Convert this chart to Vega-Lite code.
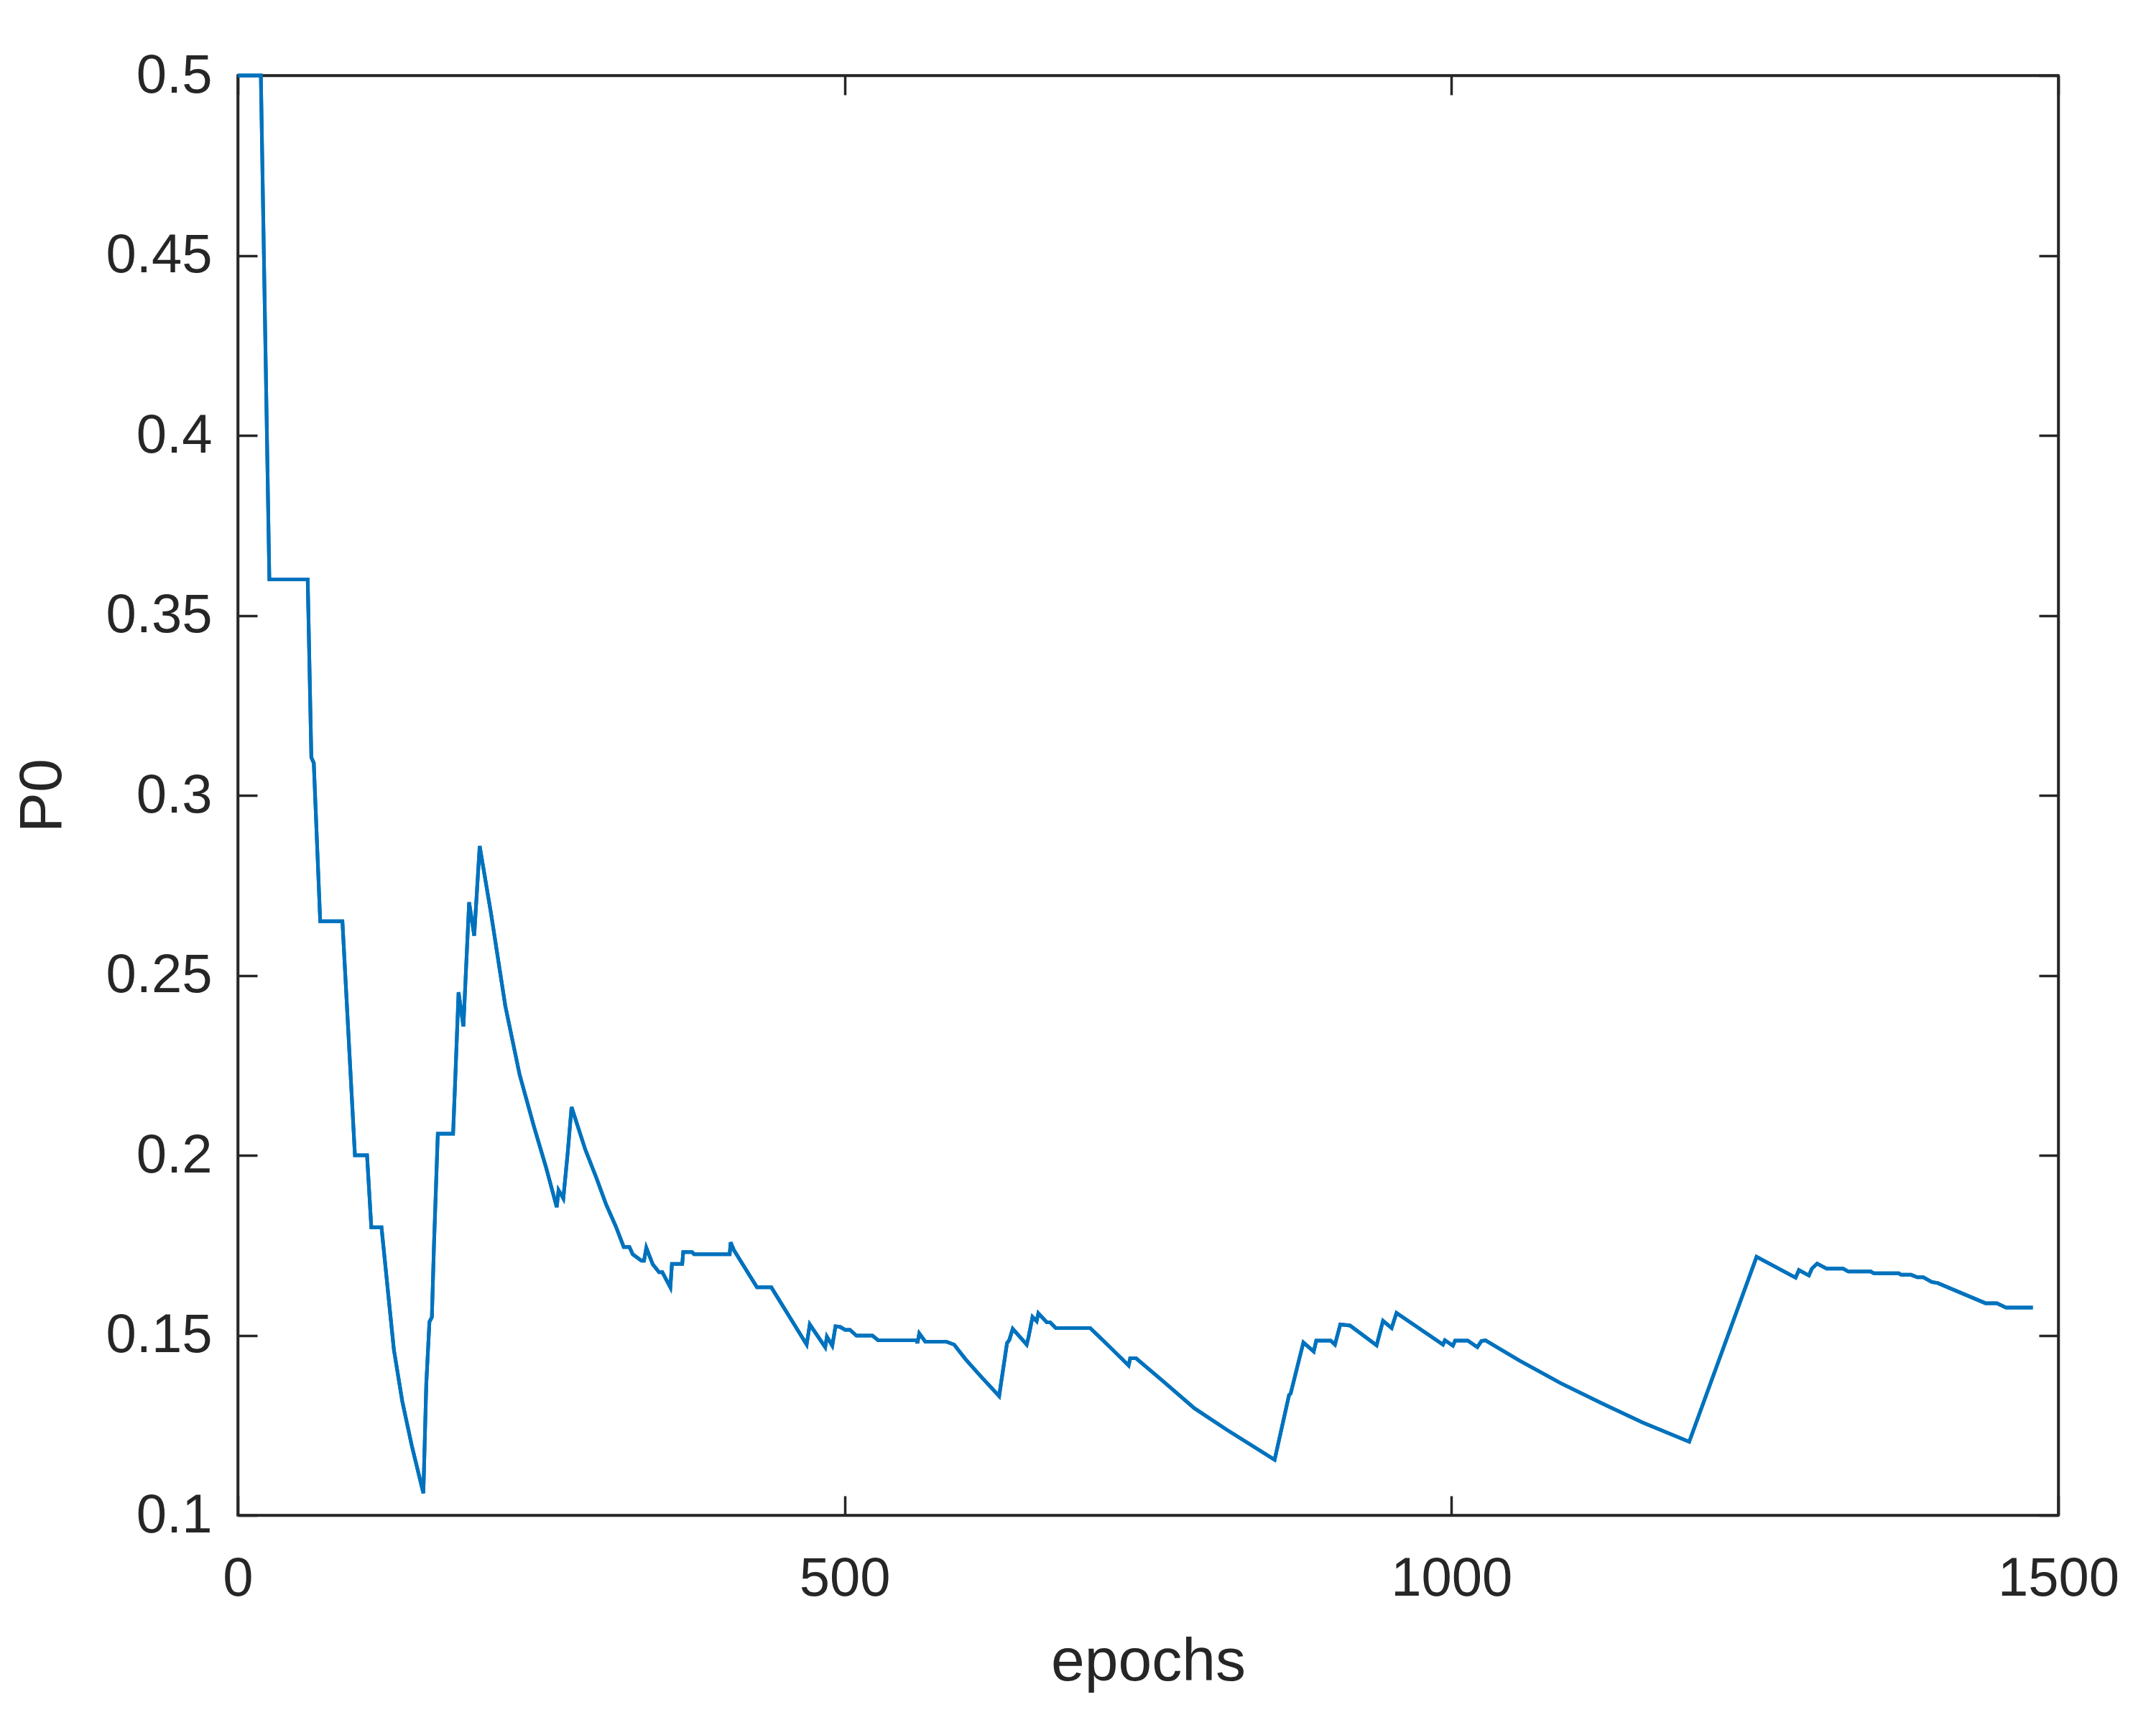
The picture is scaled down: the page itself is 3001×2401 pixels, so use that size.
{
  "$schema": "https://vega.github.io/schema/vega-lite/v6.json",
  "width": 2534,
  "height": 2004,
  "autosize": "none",
  "padding": {"left": 331, "top": 105, "right": 136, "bottom": 292},
  "background": "white",
  "config": {
    "view": {"stroke": "#262626", "strokeWidth": 3.5},
    "font": "Liberation Sans"
  },
  "data": {
    "values": [
      {"epoch": 0, "P0": 0.5},
      {"epoch": 19, "P0": 0.5},
      {"epoch": 26, "P0": 0.36},
      {"epoch": 57.6, "P0": 0.36},
      {"epoch": 60.6, "P0": 0.3105},
      {"epoch": 62.6, "P0": 0.309},
      {"epoch": 67.9, "P0": 0.265},
      {"epoch": 86.2, "P0": 0.265},
      {"epoch": 96.5, "P0": 0.2},
      {"epoch": 106.5, "P0": 0.2},
      {"epoch": 110, "P0": 0.18},
      {"epoch": 118.4, "P0": 0.18},
      {"epoch": 123.7, "P0": 0.1623},
      {"epoch": 128.6, "P0": 0.146},
      {"epoch": 135.5, "P0": 0.1317},
      {"epoch": 143.3, "P0": 0.1194},
      {"epoch": 152.9, "P0": 0.1061},
      {"epoch": 155.3, "P0": 0.1365},
      {"epoch": 157.9, "P0": 0.1537},
      {"epoch": 159.9, "P0": 0.155},
      {"epoch": 161.6, "P0": 0.1746},
      {"epoch": 164.8, "P0": 0.206},
      {"epoch": 177.4, "P0": 0.206},
      {"epoch": 179, "P0": 0.2196},
      {"epoch": 181.9, "P0": 0.2453},
      {"epoch": 185.9, "P0": 0.2358},
      {"epoch": 187.8, "P0": 0.2499},
      {"epoch": 190.6, "P0": 0.2703},
      {"epoch": 194.8, "P0": 0.261},
      {"epoch": 199.3, "P0": 0.2859},
      {"epoch": 208.6, "P0": 0.2673},
      {"epoch": 220.4, "P0": 0.2415},
      {"epoch": 232.2, "P0": 0.2224},
      {"epoch": 244, "P0": 0.208},
      {"epoch": 254, "P0": 0.1966},
      {"epoch": 262.8, "P0": 0.1856},
      {"epoch": 264.3, "P0": 0.1903},
      {"epoch": 268.2, "P0": 0.188},
      {"epoch": 271.8, "P0": 0.2006},
      {"epoch": 275, "P0": 0.2134},
      {"epoch": 286.3, "P0": 0.2016},
      {"epoch": 295.6, "P0": 0.1936},
      {"epoch": 303.5, "P0": 0.1863},
      {"epoch": 311.4, "P0": 0.1803},
      {"epoch": 318, "P0": 0.1745},
      {"epoch": 322.7, "P0": 0.1745},
      {"epoch": 325.4, "P0": 0.1725},
      {"epoch": 332.6, "P0": 0.1707},
      {"epoch": 334.7, "P0": 0.1707},
      {"epoch": 336.6, "P0": 0.1743},
      {"epoch": 341.9, "P0": 0.1697},
      {"epoch": 347.1, "P0": 0.1675},
      {"epoch": 349.8, "P0": 0.1675},
      {"epoch": 356.4, "P0": 0.1633},
      {"epoch": 357.7, "P0": 0.1698},
      {"epoch": 366.2, "P0": 0.1698},
      {"epoch": 367, "P0": 0.1731},
      {"epoch": 374.3, "P0": 0.1731},
      {"epoch": 376, "P0": 0.1725},
      {"epoch": 405.3, "P0": 0.1725},
      {"epoch": 406.1, "P0": 0.1758},
      {"epoch": 408.7, "P0": 0.1737},
      {"epoch": 427.8, "P0": 0.1633},
      {"epoch": 439.6, "P0": 0.1633},
      {"epoch": 468.7, "P0": 0.1474},
      {"epoch": 471.3, "P0": 0.153},
      {"epoch": 484, "P0": 0.1467},
      {"epoch": 485.4, "P0": 0.1496},
      {"epoch": 489.8, "P0": 0.1471},
      {"epoch": 492.5, "P0": 0.1525},
      {"epoch": 496.4, "P0": 0.1523},
      {"epoch": 500.4, "P0": 0.1515},
      {"epoch": 504.4, "P0": 0.1515},
      {"epoch": 509.7, "P0": 0.1499},
      {"epoch": 522.9, "P0": 0.1499},
      {"epoch": 527.6, "P0": 0.1486},
      {"epoch": 559.3, "P0": 0.1486},
      {"epoch": 560, "P0": 0.1478},
      {"epoch": 561.5, "P0": 0.1505},
      {"epoch": 566.5, "P0": 0.1482},
      {"epoch": 583.7, "P0": 0.1482},
      {"epoch": 590.2, "P0": 0.1474},
      {"epoch": 599.5, "P0": 0.1434},
      {"epoch": 612.7, "P0": 0.1384},
      {"epoch": 627.3, "P0": 0.1331},
      {"epoch": 633.8, "P0": 0.1478},
      {"epoch": 635.7, "P0": 0.1487},
      {"epoch": 638.5, "P0": 0.1518},
      {"epoch": 650, "P0": 0.1474},
      {"epoch": 651.6, "P0": 0.1496},
      {"epoch": 654.8, "P0": 0.1551},
      {"epoch": 658.2, "P0": 0.1539},
      {"epoch": 659.6, "P0": 0.1561},
      {"epoch": 666.6, "P0": 0.1536},
      {"epoch": 669.3, "P0": 0.1536},
      {"epoch": 674, "P0": 0.152},
      {"epoch": 702.3, "P0": 0.152},
      {"epoch": 719.5, "P0": 0.1464},
      {"epoch": 734, "P0": 0.1416},
      {"epoch": 735.3, "P0": 0.1436},
      {"epoch": 740.1, "P0": 0.1436},
      {"epoch": 761.8, "P0": 0.1374},
      {"epoch": 788.2, "P0": 0.1297},
      {"epoch": 814.6, "P0": 0.1238},
      {"epoch": 854.3, "P0": 0.1154},
      {"epoch": 866.2, "P0": 0.1334},
      {"epoch": 867.5, "P0": 0.1338},
      {"epoch": 878, "P0": 0.148},
      {"epoch": 886.5, "P0": 0.1455},
      {"epoch": 888.6, "P0": 0.1485},
      {"epoch": 900.5, "P0": 0.1485},
      {"epoch": 904, "P0": 0.1474},
      {"epoch": 908.4, "P0": 0.153},
      {"epoch": 916.4, "P0": 0.1527},
      {"epoch": 938.3, "P0": 0.1472},
      {"epoch": 943.6, "P0": 0.154},
      {"epoch": 950.7, "P0": 0.152},
      {"epoch": 954.7, "P0": 0.1562},
      {"epoch": 993, "P0": 0.1474},
      {"epoch": 994.6, "P0": 0.1486},
      {"epoch": 1001.2, "P0": 0.1471},
      {"epoch": 1003, "P0": 0.1485},
      {"epoch": 1013.4, "P0": 0.1485},
      {"epoch": 1021.3, "P0": 0.1467},
      {"epoch": 1024.7, "P0": 0.1484},
      {"epoch": 1028, "P0": 0.1486},
      {"epoch": 1055.9, "P0": 0.143},
      {"epoch": 1089.9, "P0": 0.1367},
      {"epoch": 1123.9, "P0": 0.1311},
      {"epoch": 1157.9, "P0": 0.1257},
      {"epoch": 1195.9, "P0": 0.1204},
      {"epoch": 1251.4, "P0": 0.1718},
      {"epoch": 1283.6, "P0": 0.166},
      {"epoch": 1286.3, "P0": 0.1681},
      {"epoch": 1294.5, "P0": 0.1666},
      {"epoch": 1297, "P0": 0.1685},
      {"epoch": 1301.3, "P0": 0.1699},
      {"epoch": 1309.1, "P0": 0.1685},
      {"epoch": 1322.7, "P0": 0.1685},
      {"epoch": 1327, "P0": 0.1677},
      {"epoch": 1345.5, "P0": 0.1677},
      {"epoch": 1348, "P0": 0.1672},
      {"epoch": 1368.6, "P0": 0.1672},
      {"epoch": 1370.5, "P0": 0.1668},
      {"epoch": 1378.7, "P0": 0.1668},
      {"epoch": 1383.8, "P0": 0.1661},
      {"epoch": 1388.7, "P0": 0.1661},
      {"epoch": 1395.8, "P0": 0.1648},
      {"epoch": 1400.7, "P0": 0.1645},
      {"epoch": 1440, "P0": 0.1589},
      {"epoch": 1449.4, "P0": 0.1589},
      {"epoch": 1456.9, "P0": 0.1577},
      {"epoch": 1479, "P0": 0.1577}
    ]
  },
  "layer": [
    {
      "mark": {"type": "line", "color": "#0072BD", "strokeWidth": 5},
      "encoding": {
        "x": {
          "field": "epoch", "type": "quantitative",
          "scale": {"domain": [0, 1500], "nice": false, "zero": false},
          "axis": {
            "orient": "bottom", "values": [0, 500, 1000, 1500], "format": "d",
            "labelFontSize": 76, "labelFont": "Liberation Sans", "labelColor": "#262626",
            "labelPadding": 78, "labelFlush": false, "labelOverlap": false, "labelBound": false, "labelLimit": 0,
            "tickSize": -27, "tickWidth": 3.5, "tickColor": "#262626",
            "domainColor": "#262626", "domainWidth": 3.5, "grid": false,
            "title": "epochs", "titleFont": "Liberation Sans", "titleFontSize": 84, "titleFontWeight": "normal",
            "titleColor": "#262626", "titlePadding": 37
          }
        },
        "y": {
          "field": "P0", "type": "quantitative",
          "scale": {"domain": [0.1, 0.5], "nice": false, "zero": false},
          "axis": {
            "orient": "left", "values": [0.1, 0.15, 0.2, 0.25, 0.3, 0.35, 0.4, 0.45, 0.5],
            "format": "~g",
            "labelFontSize": 76, "labelFont": "Liberation Sans", "labelColor": "#262626",
            "labelPadding": 63, "labelFlush": false, "labelOverlap": false, "labelBound": false, "labelLimit": 0,
            "tickSize": -27, "tickWidth": 3.5, "tickColor": "#262626",
            "domainColor": "#262626", "domainWidth": 3.5, "grid": false,
            "title": "P0", "titleFont": "Liberation Sans", "titleFontSize": 84, "titleFontWeight": "normal",
            "titleColor": "#262626", "titlePadding": 45
          }
        }
      }
    },
    {
      "mark": {"type": "line", "color": "#0072BD", "strokeWidth": 5},
      "encoding": {
        "x": {
          "field": "epoch", "type": "quantitative",
          "axis": {
            "orient": "top", "values": [0, 500, 1000, 1500], "labels": false, "title": null,
            "tickSize": -27, "tickWidth": 3.5, "tickColor": "#262626",
            "domainColor": "#262626", "domainWidth": 3.5, "grid": false
          }
        },
        "y": {
          "field": "P0", "type": "quantitative",
          "axis": {
            "orient": "right", "values": [0.1, 0.15, 0.2, 0.25, 0.3, 0.35, 0.4, 0.45, 0.5], "labels": false, "title": null,
            "tickSize": -27, "tickWidth": 3.5, "tickColor": "#262626",
            "domainColor": "#262626", "domainWidth": 3.5, "grid": false
          }
        }
      }
    }
  ],
  "resolve": {"axis": {"x": "independent", "y": "independent"}}
}
